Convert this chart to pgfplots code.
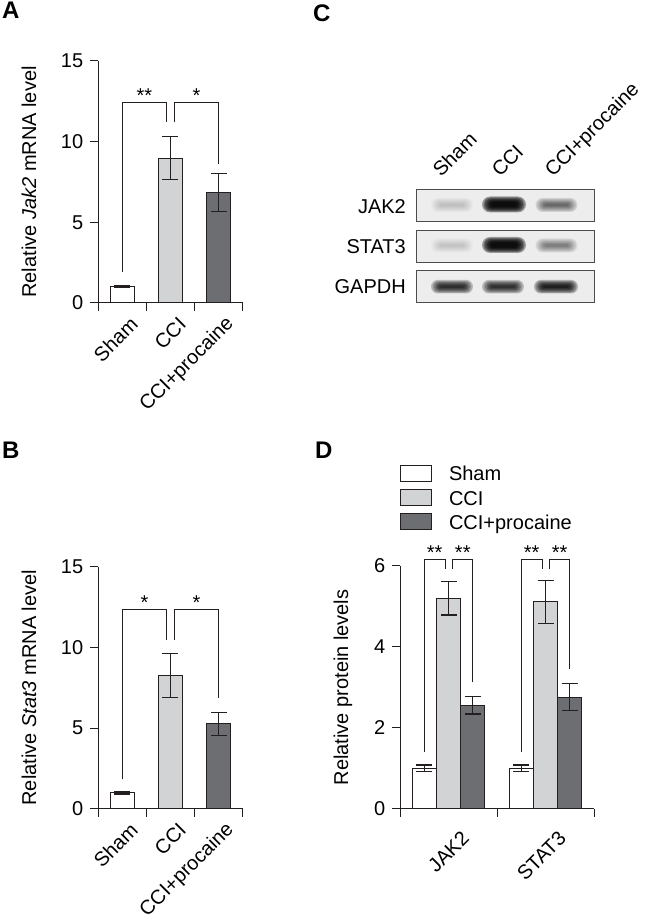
\documentclass[border=0pt]{standalone}
\usepackage{fontspec}
\setmainfont{Liberation Sans}
\usepackage{pgfplots}
\pgfplotsset{compat=1.18}
\definecolor{dk}{HTML}{231F20}
\definecolor{ccig}{HTML}{D2D3D5}
\definecolor{proc}{HTML}{6D6E71}
\definecolor{blotbg}{HTML}{EDEDED}
% blurred blot band: nested translucent rounded rectangles
\newcommand\band[5]{%
  \pgfmathsetmacro\opa{1-(1-#3)^(1/7)}%
  \foreach \k in {0,...,6}{%
    \pgfmathsetmacro\ww{#4-1.5*\k}\pgfmathsetmacro\hh{#5-0.95*\k}%
    \fill[black, opacity=\opa, rounded corners=\hh pt] (#1pt-\ww pt,#2pt-\hh pt) rectangle (#1pt+\ww pt,#2pt+\hh pt);
  }}
\pgfplotsset{
  panel/.style={
    scale only axis, axis lines=left,
    axis line style={-, line width=1pt, dk},
    tick align=outside, major tick length=8pt,
    tick style={line width=1pt, dk},
    xmin=0, ymin=0, clip=false,
    /pgf/number format/assume math mode=true,
    xticklabels={},
  },
  mybar/.style={ybar, bar shift=0pt, draw=dk, line width=1pt},
  leg/.style={legend image code/.code={\draw[##1, line width=1pt] (0pt,-0.5pt) rectangle (30.7pt,15.5pt); \path (48pt,0pt);}},
  eb/.style={error bars/.cd, y dir=both, y explicit,
    error bar style={line width=1.2pt, dk},
    error mark options={rotate=90, mark size=8pt, line width=1.2pt, dk}},
  brk/.style={dk, line width=1pt, forget plot, mark=none},
}
\begin{document}
\fontsize{20}{24}\selectfont
\begin{tikzpicture}
\useasboundingbox (0pt,0pt) rectangle (650pt,920pt);
% panel letters
\node[anchor=north west, inner sep=0pt, font=\bfseries\fontsize{24}{24}\selectfont] at (2pt,918pt) {A};
\node[anchor=north west, inner sep=0pt, font=\bfseries\fontsize{24}{24}\selectfont] at (313pt,915pt) {C};
\node[anchor=north west, inner sep=0pt, font=\bfseries\fontsize{24}{24}\selectfont] at (2pt,478pt) {B};
\node[anchor=north west, inner sep=0pt, font=\bfseries\fontsize{24}{24}\selectfont] at (315pt,478pt) {D};

% ---------- Panel A ----------
\begin{axis}[panel, at={(98pt,617pt)}, anchor=south west, width=145pt, height=242pt,
  xmax=3, ymax=15, xtick={0,1,2,3}, ytick={0,5,10,15},
  ylabel={Relative \textit{Jak2} mRNA level},
  ylabel style={at={(axis description cs:-0.476,0.5)}, anchor=center}]
\addplot[fill=white, mybar, bar width=24pt, eb] coordinates {(0.5,1.02) +- (0,0.08)};
\addplot[fill=ccig, mybar, bar width=24pt, eb] coordinates {(1.5,8.97) +- (0,1.33)};
\addplot[fill=proc, mybar, bar width=24pt, eb] coordinates {(2.5,6.85) +- (0,1.2)};
\addplot[brk] coordinates {(0.5,1.9) (0.5,12.45) (1.42,12.45) (1.42,11.2)};
\addplot[brk] coordinates {(1.58,11.2) (1.58,12.45) (2.5,12.45) (2.5,8.6)};
\node[anchor=base] at (axis cs:0.96,12.45) {**};
\node[anchor=base] at (axis cs:2.04,12.45) {*};
\node[anchor=east, rotate=45, inner sep=0pt] at ([xshift=12pt,yshift=-18pt]axis cs:0.5,0) {Sham};
\node[anchor=east, rotate=45, inner sep=0pt] at ([xshift=12pt,yshift=-18pt]axis cs:1.5,0) {CCI};
\node[anchor=east, rotate=45, inner sep=0pt] at ([xshift=12pt,yshift=-18pt]axis cs:2.5,0) {CCI+procaine};
\end{axis}

% ---------- Panel B ----------
\begin{axis}[panel, at={(98pt,111.3pt)}, anchor=south west, width=145pt, height=242pt,
  xmax=3, ymax=15, xtick={0,1,2,3}, ytick={0,5,10,15},
  ylabel={Relative \textit{Stat3} mRNA level},
  ylabel style={at={(axis description cs:-0.476,0.5)}, anchor=center}]
\addplot[fill=white, mybar, bar width=24pt, eb] coordinates {(0.5,0.99) +- (0,0.08)};
\addplot[fill=ccig, mybar, bar width=24pt, eb] coordinates {(1.5,8.27) +- (0,1.36)};
\addplot[fill=proc, mybar, bar width=24pt, eb] coordinates {(2.5,5.25) +- (0,0.69)};
\addplot[brk] coordinates {(0.5,1.82) (0.5,12.32) (1.42,12.32) (1.42,10.46)};
\addplot[brk] coordinates {(1.58,10.46) (1.58,12.32) (2.5,12.32) (2.5,6.84)};
\node[anchor=base] at (axis cs:0.96,12.32) {*};
\node[anchor=base] at (axis cs:2.04,12.32) {*};
\node[anchor=east, rotate=45, inner sep=0pt] at ([xshift=12pt,yshift=-18pt]axis cs:0.5,0) {Sham};
\node[anchor=east, rotate=45, inner sep=0pt] at ([xshift=12pt,yshift=-18pt]axis cs:1.5,0) {CCI};
\node[anchor=east, rotate=45, inner sep=0pt] at ([xshift=12pt,yshift=-18pt]axis cs:2.5,0) {CCI+procaine};
\end{axis}

% ---------- Panel D ----------
\begin{axis}[panel, at={(400pt,111.3pt)}, anchor=south west, width=194pt, height=242.7pt,
  xmax=2, ymax=6, xtick={0,1,2}, ytick={0,2,4,6},
  ylabel={Relative protein levels},
  ylabel style={at={(axis description cs:-0.294,0.5)}, anchor=center},
  legend style={draw=none, fill=none, at={(rel axis cs:0,1)}, anchor=south west,
    yshift=31.7pt, inner sep=0pt, outer sep=0pt, row sep=3.2pt,
    nodes={inner sep=0pt, text height=15pt, text depth=5pt, anchor=base west}}]
\addplot[fill=white, mybar, bar width=24.3pt, leg, eb] coordinates {(0.25,1.0) +- (0,0.08) (1.25,1.0) +- (0,0.08)};
\addlegendentry{Sham}
\addplot[fill=ccig, mybar, bar width=24.3pt, leg, eb] coordinates {(0.5,5.2) +- (0,0.41) (1.5,5.11) +- (0,0.54)};
\addlegendentry{CCI}
\addplot[fill=proc, mybar, bar width=24.3pt, leg, eb] coordinates {(0.75,2.56) +- (0,0.22) (1.75,2.76) +- (0,0.33)};
\addlegendentry{CCI+procaine}
\addplot[brk] coordinates {(0.25,1.41) (0.25,6.15) (0.464,6.15) (0.464,5.92)};
\addplot[brk] coordinates {(0.543,5.92) (0.543,6.15) (0.75,6.15) (0.75,3.13)};
\addplot[brk] coordinates {(1.25,1.41) (1.25,6.15) (1.464,6.15) (1.464,5.92)};
\addplot[brk] coordinates {(1.54,5.92) (1.54,6.15) (1.75,6.15) (1.75,3.45)};
\node[anchor=base] at (axis cs:0.357,6.15) {**};
\node[anchor=base] at (axis cs:0.647,6.15) {**};
\node[anchor=base] at (axis cs:1.357,6.15) {**};
\node[anchor=base] at (axis cs:1.645,6.15) {**};
\node[anchor=east, rotate=45, inner sep=0pt] at ([xshift=17pt,yshift=-26pt]axis cs:0.5,0) {JAK2};
\node[anchor=east, rotate=45, inner sep=0pt] at ([xshift=17pt,yshift=-26pt]axis cs:1.5,0) {STAT3};
\end{axis}

% ---------- Panel C (western blot) ----------
\filldraw[fill=blotbg, draw=black!70, line width=0.9pt] (416pt,698.3pt) rectangle (594pt,730.7pt);
\filldraw[fill=blotbg, draw=black!70, line width=0.9pt] (416pt,657.7pt) rectangle (594pt,690pt);
\filldraw[fill=blotbg, draw=black!70, line width=0.9pt] (416pt,617.3pt) rectangle (594pt,650pt);
\band{452}{715}{0.17}{21}{7}
\band{504}{715.5}{0.94}{22}{8}
\band{556.5}{715}{0.55}{21}{7}
\band{452}{674.5}{0.16}{21}{7}
\band{504}{675}{0.94}{22}{8}
\band{556.5}{674.5}{0.45}{21}{7}
\band{452}{633.3}{0.80}{21}{6.8}
\band{503}{633.3}{0.78}{21}{6.8}
\band{556}{633.3}{0.86}{22}{6.8}
\node[anchor=east, inner sep=0pt] at (406pt,713.5pt) {JAK2};
\node[anchor=east, inner sep=0pt] at (406pt,673.3pt) {STAT3};
\node[anchor=east, inner sep=0pt] at (406pt,633pt) {GAPDH};
\node[anchor=base west, rotate=45, inner sep=0pt] at (441pt,742pt) {Sham};
\node[anchor=base west, rotate=45, inner sep=0pt] at (500pt,742pt) {CCI};
\node[anchor=base west, rotate=45, inner sep=0pt] at (553pt,742pt) {CCI+procaine};
\end{tikzpicture}
\end{document}
